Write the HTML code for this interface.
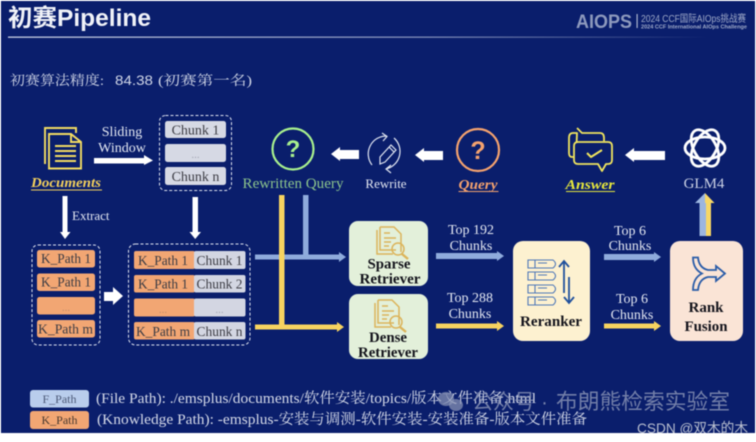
<!DOCTYPE html>
<html><head><meta charset="utf-8">
<style>
html,body{margin:0;padding:0;background:#fff;width:756px;height:442px;overflow:hidden}
svg{display:block;filter:blur(.55px)}
text{font-family:"Liberation Serif","Noto Serif CJK SC",serif}
.s{font-family:"Liberation Sans","Noto Sans CJK SC",sans-serif}
.m{text-anchor:middle}
.w{fill:#e4e8f2}
.d{fill:#3c3c44}
.b{font-weight:bold;fill:#14141c}
</style></head><body>
<svg width="756" height="442" viewBox="0 0 756 442" xmlns="http://www.w3.org/2000/svg">
<defs>
<linearGradient id="ln" x1="0" x2="1" y1="0" y2="0"><stop offset="0" stop-color="#c8d0e4"/><stop offset=".6" stop-color="#7f8cb8"/><stop offset="1" stop-color="#0a1e6c"/></linearGradient>
<g id="doc" fill="none" stroke="#dcb45a" stroke-width="1.500">
<path d="M3 0H17L24 7V25M3 0V23H19"/><path d="M0 3V27H16"/><path d="M7 6H13M7 11H19M7 15H14M7 19H12"/><circle cx="21" cy="22" r="6"/><path d="M25 27L31 32" stroke-width="2.400"/>
</g>
</defs>
<rect x="1" y="1" width="754" height="432" fill="#0a1e6c"/>

<text x="8" y="26" font-size="24" font-weight="bold" fill="#f0f2f8" class="s" textLength="143" lengthAdjust="spacingAndGlyphs">初赛Pipeline</text>
<rect x="8" y="36.500" width="700" height="1.300" fill="url(#ln)"/>

<text x="576" y="28" font-size="19" font-weight="bold" fill="#8d99bd" class="s" textLength="56" lengthAdjust="spacingAndGlyphs">AIOPS</text>
<rect x="636.500" y="14" width="1.200" height="14" fill="#aab3ce"/>
<text x="641" y="22" font-size="10" fill="#9ea9c8" class="s" textLength="105" lengthAdjust="spacingAndGlyphs">2024 CCF国际AIOps挑战赛</text>
<text x="641" y="28.500" font-size="5" font-weight="bold" fill="#9ea9c8" class="s" textLength="106" lengthAdjust="spacingAndGlyphs">2024 CCF International AIOps Challenge</text>

<text x="10" y="85" font-size="13.500" fill="#cfd5e6" textLength="94" lengthAdjust="spacingAndGlyphs">初赛算法精度:</text>
<text x="115" y="85" font-size="14" fill="#cfd5e6" class="s" textLength="38" lengthAdjust="spacingAndGlyphs">84.38</text>
<text x="158" y="85" font-size="13.500" fill="#cfd5e6" textLength="94" lengthAdjust="spacingAndGlyphs">(初赛第一名)</text>

<!-- documents -->
<g fill="none" stroke="#f2dc62" stroke-width="1.900">
<path d="M45 164V128H76V133"/>
<path d="M49 168.500V134H71L81 142V168.500Z" fill="#0a1e6c"/>
<path d="M71 134V142H81M55 146H76M55 151H76M55 156H76M55 161H76"/>
</g>
<text x="66" y="187" font-size="14" font-weight="bold" font-style="italic" fill="#f2cf5c" class="m" textLength="70" lengthAdjust="spacingAndGlyphs">Documents</text>
<rect x="31" y="189.500" width="71" height="1" fill="#f2cf5c"/>

<text x="122" y="136" font-size="14" class="m w">Sliding</text>
<text x="122" y="152" font-size="14" class="m w">Window</text>
<polygon points="94,158 144,158 144,155 153,160.500 144,165 144,163.500 94,163.500" fill="#fff"/>

<rect x="159.500" y="115.500" width="72" height="75" rx="6" fill="none" stroke="#dfe3ef" stroke-width="1" stroke-dasharray="3 2"/>
<rect x="165" y="121" width="61" height="17" rx="2.500" fill="#d6d9e4"/>
<rect x="165" y="144" width="61" height="18" rx="2.500" fill="#d6d9e4"/>
<rect x="165" y="167" width="61" height="18" rx="2.500" fill="#d6d9e4"/>
<text x="195.500" y="134.500" font-size="14" class="m d">Chunk 1</text>
<text x="195.500" y="158" font-size="11" class="m" fill="#a4a7b4">...</text>
<text x="195.500" y="181" font-size="14" class="m d">Chunk n</text>

<!-- rewritten query -->
<circle cx="293" cy="149" r="20.500" fill="none" stroke="#a8f08e" stroke-width="2.200"/>
<text x="293" y="157" font-size="24" font-weight="bold" fill="#a8f08e" class="m s">?</text>
<text x="293" y="188" font-size="15" fill="#8cc48c" class="m" textLength="101" lengthAdjust="spacingAndGlyphs">Rewritten Query</text>
<polygon points="331,154 340,147 340,150 359,150 359,159 340,159 340,161" fill="#fff"/>

<!-- rewrite -->
<g fill="none" stroke="#dfe4f0" stroke-width="1.200">
<path d="M372 165A18 18 0 0 1 387 136M382 133L387 136.500L383 141"/>
<path d="M394 138A18 18 0 0 1 386 169M391 165L386 169L391 173"/>
<path d="M380 164L380 157L391 145L396 150L385 162Z M380 164L385 162M389 147L394 152"/>
</g>
<text x="386" y="188" font-size="13" class="m w">Rewrite</text>
<polygon points="415,155 424,148 424,151 443,151 443,160 424,160 424,162" fill="#fff"/>

<!-- query -->
<circle cx="478" cy="150" r="21" fill="none" stroke="#f4a26e" stroke-width="2.200"/>
<text x="478" y="159" font-size="25" font-weight="bold" fill="#f4a26e" class="m s">?</text>
<text x="478" y="189" font-size="14" font-weight="bold" font-style="italic" fill="#f4a26e" class="m" textLength="39" lengthAdjust="spacingAndGlyphs">Query</text>
<rect x="458.500" y="191" width="40" height="1" fill="#f4a26e"/>

<!-- answer -->
<g fill="none" stroke="#f0e45e" stroke-width="1.800" stroke-linejoin="round">
<path d="M577 128L582 133H600Q604 133 604 138V141M576 157H572Q569 157 569 153V138Q569 133 573 133H577Z"/>
<path d="M578 142H608Q612 142 612 146V160Q612 164 608 164H606L602 171L598 164H578Q574 164 574 160V146Q574 142 578 142Z" fill="#0a1e6c"/>
<path d="M587 153L591 157L602 150" stroke-width="2"/>
</g>
<text x="590" y="189" font-size="14" font-weight="bold" font-style="italic" fill="#e8e83c" class="m" textLength="49" lengthAdjust="spacingAndGlyphs">Answer</text>
<rect x="566" y="191" width="49" height="1" fill="#e8e83c"/>
<polygon points="625,155 634,148 634,151 665,151 665,160 634,160 634,162" fill="#fff"/>

<!-- GPT -->
<g fill="none" stroke="#fff" stroke-width="2.800">
<ellipse cx="705" cy="148" rx="20" ry="11"/>
<ellipse cx="705" cy="148" rx="20" ry="11" transform="rotate(60 705 148)"/>
<ellipse cx="705" cy="148" rx="20" ry="11" transform="rotate(120 705 148)"/>
</g>
<text x="704" y="188" font-size="15" class="m" fill="#c9d0e4">GLM4</text>
<rect x="699.500" y="203" width="6.500" height="33" fill="#9cb6e0"/>
<rect x="706" y="203" width="5" height="33" fill="#f7d765"/>
<polygon points="695,203 705,193 705,203" fill="#9cb6e0"/>
<polygon points="705,193 714.500,203 705,203" fill="#f7d765"/>

<!-- down arrows -->
<polygon points="62.500,196 67.500,196 67.500,232 70.500,232 65,239 60,232 62.500,232" fill="#fff"/>
<text x="72" y="220" font-size="13" class="w">Extract</text>
<polygon points="192.500,197 198,197 198,232 201,232 195.200,239 189.500,232 192.500,232" fill="#fff"/>

<!-- K path box -->
<rect x="32" y="245" width="68" height="100" rx="6" fill="none" stroke="#dfe3ef" stroke-dasharray="3 2"/>
<g fill="#f2a673">
<rect x="37" y="250" width="58" height="17.500" rx="2.500"/>
<rect x="37" y="273.500" width="58" height="17.500" rx="2.500"/>
<rect x="37" y="297" width="58" height="17.500" rx="2.500"/>
<rect x="37" y="320" width="58" height="17.500" rx="2.500"/>
</g>
<text x="66" y="263" font-size="14" class="m d" textLength="50" lengthAdjust="spacingAndGlyphs">K_Path 1</text>
<text x="66" y="286.500" font-size="14" class="m d" textLength="50" lengthAdjust="spacingAndGlyphs">K_Path 1</text>
<text x="66" y="311" font-size="11" class="m" fill="#c08e6c">...</text>
<text x="65.500" y="333.500" font-size="14" class="m d" textLength="55" lengthAdjust="spacingAndGlyphs">K_Path m</text>
<polygon points="104,292 113,292 113,287 123,296 113,305 113,301 104,301" fill="#fff"/>

<!-- combined box -->
<rect x="128.500" y="244" width="121.500" height="101" rx="7" fill="none" stroke="#dfe3ef" stroke-dasharray="3 2"/>
<g fill="#f2a673">
<rect x="134" y="251" width="61" height="18" rx="2"/>
<rect x="134" y="275" width="61" height="17.500" rx="2"/>
<rect x="134" y="298.500" width="61" height="18" rx="2"/>
<rect x="134" y="322" width="61" height="17.500" rx="2"/>
</g>
<g fill="#d3d6e2">
<rect x="194" y="251" width="51.500" height="18" rx="2"/>
<rect x="194" y="275" width="51.500" height="17.500" rx="2"/>
<rect x="194" y="298.500" width="51.500" height="18" rx="2"/>
<rect x="194" y="322" width="51.500" height="17.500" rx="2"/>
</g>
<text x="163" y="265" font-size="14" class="m d" textLength="50" lengthAdjust="spacingAndGlyphs">K_Path 1</text>
<text x="163" y="288.500" font-size="14" class="m d" textLength="50" lengthAdjust="spacingAndGlyphs">K_Path 1</text>
<text x="163" y="313" font-size="11" class="m" fill="#c08e6c">...</text>
<text x="163" y="336" font-size="14" class="m d" textLength="54" lengthAdjust="spacingAndGlyphs">K_Path m</text>
<text x="219.500" y="265" font-size="14" class="m d" textLength="46" lengthAdjust="spacingAndGlyphs">Chunk 1</text>
<text x="219.500" y="288.500" font-size="14" class="m d" textLength="46" lengthAdjust="spacingAndGlyphs">Chunk 2</text>
<text x="219.500" y="313" font-size="11" class="m" fill="#a4a7b4">...</text>
<text x="219.500" y="336" font-size="14" class="m d" textLength="46" lengthAdjust="spacingAndGlyphs">Chunk n</text>

<!-- connectors -->
<rect x="303" y="195" width="5.500" height="62" fill="#8fabdc"/>
<polygon points="255,254.500 339,254.500 339,252 346,257 339,262 339,259.500 255,259.500" fill="#8fabdc"/>
<rect x="279" y="195" width="5.500" height="132" fill="#f7d360"/>
<polygon points="255,324.500 337,324.500 337,322 344,327 337,332 337,329.500 255,329.500" fill="#f7d360"/>

<!-- retrievers -->
<rect x="349" y="221" width="79" height="65" rx="9" fill="#e3f0da"/>
<rect x="349" y="294" width="79" height="65" rx="9" fill="#e3f0da"/>
<use href="#doc" x="377" y="227"/>
<use href="#doc" x="375" y="300"/>
<text x="389" y="268.500" font-size="15" class="m b" textLength="43" lengthAdjust="spacingAndGlyphs">Sparse</text>
<text x="390" y="283.500" font-size="15" class="m b" textLength="61" lengthAdjust="spacingAndGlyphs">Retriever</text>
<text x="388" y="342" font-size="15" class="m b" textLength="38" lengthAdjust="spacingAndGlyphs">Dense</text>
<text x="388" y="357" font-size="15" class="m b" textLength="60" lengthAdjust="spacingAndGlyphs">Retriever</text>

<!-- top arrows -->
<text x="471" y="234" font-size="14" class="m w">Top 192</text>
<text x="471" y="250" font-size="14" class="m w">Chunks</text>
<polygon points="436,253 497,253 497,251 504,256 497,261 497,259 436,259" fill="#8fabdc"/>
<text x="470" y="302" font-size="14" class="m w">Top 288</text>
<text x="470" y="318" font-size="14" class="m w">Chunks</text>
<polygon points="436,323.500 497,323.500 497,321 504,326 497,331 497,328.500 436,328.500" fill="#f7d360"/>

<!-- reranker -->
<rect x="513" y="241" width="77" height="100" rx="10" fill="#fdf1d0"/>
<g fill="none" stroke="#4f78b8" stroke-width="1.100">
<path d="M528 260H553Q558 264 553 268H528Z"/>
<path d="M528 272H553Q558 276 553 280H528Z"/>
<path d="M528 285H553Q558 289 553 293H528Z"/>
<path d="M528 297H553Q558 301 553 305H528Z"/>
<path d="M535 260V268M535 272V280M535 285V293M535 297V305"/>
<path d="M538 263H547M538 275H547M538 288H547M538 300H547" stroke-width="1"/>
</g>
<g fill="none" stroke="#20509c" stroke-width="1.800">
<path d="M564 293V262M559 267L564 261L569 267"/>
<path d="M569 277V302M564 297L569 303L574 297"/>
</g>
<text x="551" y="326" font-size="14.500" class="m b" textLength="62" lengthAdjust="spacingAndGlyphs">Reranker</text>

<text x="630" y="235" font-size="14" class="m w">Top 6</text>
<text x="630" y="250" font-size="14" class="m w">Chunks</text>
<polygon points="604,254 654,254 654,252 661,257 654,262 654,260 604,260" fill="#8fabdc"/>
<text x="632" y="303" font-size="14" class="m w">Top 6</text>
<text x="632" y="319" font-size="14" class="m w">Chunks</text>
<polygon points="604,323.500 654,323.500 654,321 661,326 654,331 654,328.500 604,328.500" fill="#f7d360"/>

<!-- rank fusion -->
<rect x="670" y="241" width="73" height="100" rx="10" fill="#fae4d6"/>
<path d="M693 257.500H698Q699 268 708 270H716V266L725 273.500L716 281V277H708Q699 279 698 290H693Q693 278 702 273.500Q693 269 693 257.500Z" fill="none" stroke="#2a5ca8" stroke-width="1.800"/>
<text x="706" y="312" font-size="15" class="m b" textLength="35" lengthAdjust="spacingAndGlyphs">Rank</text>
<text x="706" y="331" font-size="15" class="m b" textLength="43" lengthAdjust="spacingAndGlyphs">Fusion</text>

<!-- legend -->
<rect x="30" y="390" width="59" height="17.500" rx="3" fill="#b9cdec"/>
<rect x="30" y="411" width="59" height="18" rx="3" fill="#f2a673"/>
<text x="59.500" y="403" font-size="12" class="m" fill="#4d5a78">F_Path</text>
<text x="59.500" y="424" font-size="12" class="m" fill="#4a3a30">K_Path</text>
<text x="96" y="403" font-size="14.500" fill="#d4d9e8" textLength="440" lengthAdjust="spacingAndGlyphs">(File Path): ./emsplus/documents/软件安装/topics/版本文件准备.html</text>
<text x="97" y="424" font-size="14.500" fill="#d4d9e8" textLength="490" lengthAdjust="spacingAndGlyphs">(Knowledge Path): -emsplus-安装与调测-软件安装-安装准备-版本文件准备</text>

<!-- watermark -->
<ellipse cx="446" cy="399" rx="8" ry="7" fill="#8d97b8" opacity=".7"/>
<ellipse cx="456" cy="405" rx="7" ry="6" fill="#8d97b8" opacity=".7"/>
<text x="472" y="409" font-size="21" fill="#8d97b8" opacity=".8" class="s" textLength="63" lengthAdjust="spacingAndGlyphs">公众号</text>
<text x="541" y="409" font-size="21" fill="#8d97b8" opacity=".8" class="s">·</text>
<text x="556" y="409" font-size="21.500" fill="#8d97b8" opacity=".8" class="s" textLength="174" lengthAdjust="spacingAndGlyphs">布朗熊检索实验室</text>
<text x="637" y="433" font-size="14" fill="#b9bfd0" class="s" textLength="111" lengthAdjust="spacingAndGlyphs">CSDN @双木的木</text>
<rect x="0" y="433" width="756" height="9" fill="#fff"/>
</svg>
</body></html>
